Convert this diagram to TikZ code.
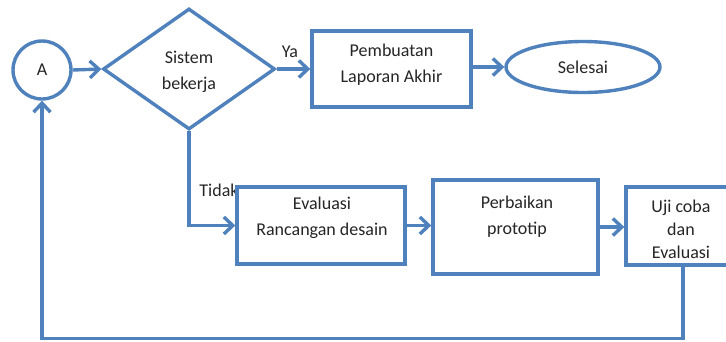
\documentclass[tikz,border=0pt]{standalone}
\usepackage{fontspec}
\setmainfont{Carlito}
\usetikzlibrary{shapes.geometric,arrows.meta}
\definecolor{flow}{HTML}{4F81BD}
\definecolor{ink}{HTML}{262626}
\begin{document}
\begin{tikzpicture}[x=1pt,y=-1pt,
  every node/.style={font=\fontsize{18}{26}\selectfont, text=ink},
  shp/.style={draw=flow, line width=3.4pt, fill=white, inner sep=0pt},
  box/.style={shp, rectangle},
  txt/.style={align=center, inner sep=0pt},
  conn/.style={draw=flow, line width=3.4pt, -{Straight Barb[length=9pt,width=17pt]}}
]
\useasboundingbox (0,0) rectangle (726,341);
\clip (0,0) rectangle (726,341);

\node[shp, circle, minimum size=58pt] (A) at (42,70) {A};
\node[shp, diamond, minimum width=172pt, minimum height=121pt] (D) at (189,69) {};
\node[txt] (Dt) at (189,72) {Sistem\\bekerja};

\node[box, minimum width=159pt, minimum height=76pt] (P) at (391.5,69) {};
\node[txt] (Pt) at (391.5,65) {Pembuatan\\Laporan Akhir};

\node[shp, ellipse, minimum width=154pt, minimum height=51pt] (S) at (583,67) {Selesai};

\node[txt] (tidak) at (219,190) {Tidak};
\node[box, minimum width=168pt, minimum height=77pt] (E) at (321,225.5) {};
\node[txt] (Et) at (322,218) {Evaluasi\\Rancangan desain};

\node[box, minimum width=165pt, minimum height=94pt] (Pb) at (515.5,227) {};
\node[txt] (Pbt) at (517,217) {Perbaikan\\prototip};

\node[box, minimum width=114pt, minimum height=78pt] (U) at (683,226) {};
\node[txt, font=\fontsize{18}{23}\selectfont] (Ut) at (681,229) {Uji coba\\dan\\Evaluasi};

\node[txt] (ya) at (290,52) {Ya};

\draw[conn] (A.east) -- (D.west);
\draw[conn] (D.east) -- (P.west |- D.east);
\draw[conn] (P.east |- S.west) -- (S.west);
\draw[conn] (D.south) |- (E.west);
\draw[conn] (E.east) -- (Pb.west |- E.east);
\draw[conn] (Pb.east) -- (U.west |- Pb.east);
\draw[conn] (U.south) -- ++(0,72) -| (A.south);
\end{tikzpicture}
\end{document}
